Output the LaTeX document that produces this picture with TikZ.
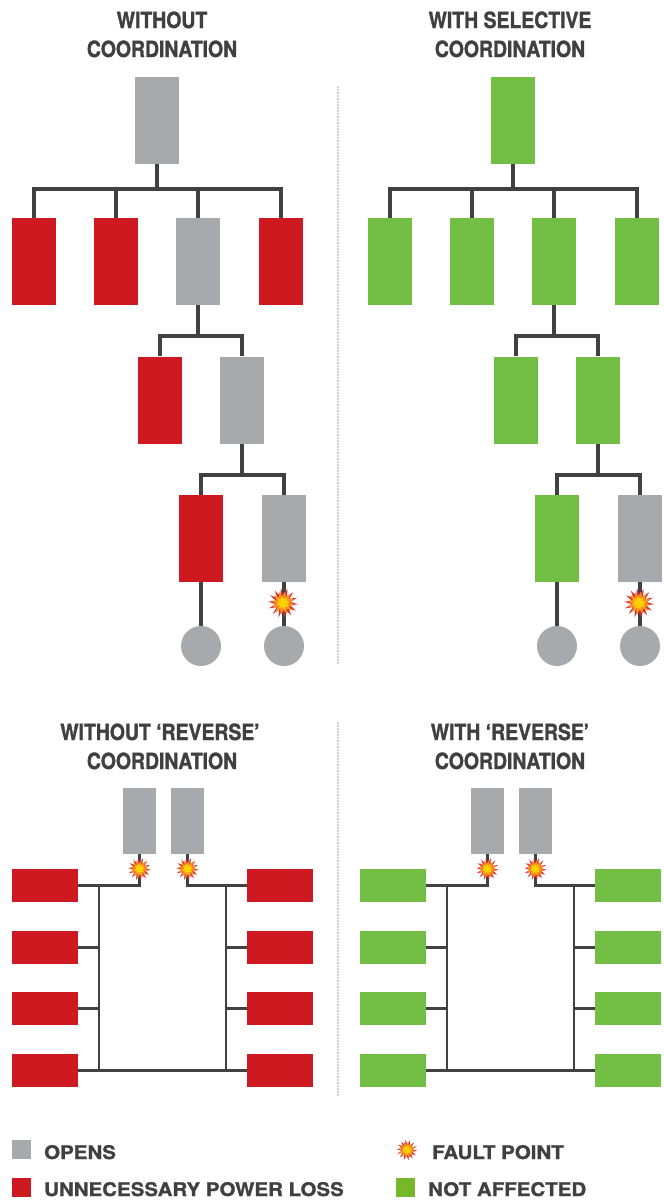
\documentclass[tikz,border=0pt]{standalone}
\usepackage{fontspec}
\setmainfont{TeX Gyre Heros}
\newfontfamily\ttlfont[FakeStretch=0.87,FakeBold=1.4]{texgyreheros-bold.otf}
\newfontfamily\lgdfont[FakeStretch=1.09,FakeBold=1.2]{texgyreheros-bold.otf}
\usetikzlibrary{shapes.geometric}
\definecolor{cgray}{HTML}{A7A9AC}
\definecolor{csep}{HTML}{9A9C9F}
\definecolor{cred}{HTML}{CF1920}
\definecolor{cgreen}{HTML}{73BE44}
\definecolor{clgreen}{HTML}{77B82B}
\definecolor{cline}{HTML}{414042}
\definecolor{ctext}{HTML}{404041}
\definecolor{fred}{HTML}{E42A2E}
\definecolor{forange}{HTML}{F7901E}
\definecolor{fyellow}{HTML}{FFD000}
\tikzset{
  tall/.style={rectangle, inner sep=0, minimum width=44pt, minimum height=87pt},
  small/.style={rectangle, inner sep=0, minimum width=33pt, minimum height=66pt},
  wide/.style={rectangle, inner sep=0, minimum width=66pt, minimum height=33pt},
  og/.style={fill=cgray},
  orr/.style={fill=cred},
  ogr/.style={fill=cgreen},
  load/.style={circle, inner sep=0, minimum size=40pt, fill=cgray},
  wire/.style={draw=cline, line width=3.2pt},
  thinwire/.style={draw=cline, line width=2.5pt},
  sep/.style={draw=csep, line width=1.8pt, line cap=round, dash pattern=on 0pt off 3pt},
  ttl/.style={inner sep=0, anchor=base, text=ctext, font=\ttlfont\fontsize{22.3}{26}\selectfont},
  lgd/.style={inner sep=0, anchor=base west, text=ctext, font=\lgdfont\fontsize{18.8}{22}\selectfont},
  sq/.style={rectangle, inner sep=0, minimum size=19pt},
}
\newcommand\fault[3]{%
  \node[star, star points=14, star point ratio=2.0, fill=fred, minimum size=#3pt, inner sep=0, rotate=8] (#1) at #2 {};
  \node[star, star points=12, star point ratio=1.7, fill=forange, minimum size=0.78*#3pt, inner sep=0, rotate=20] (#1o) at #2 {};
  \node[star, star points=8, star point ratio=1.6, fill=fyellow, minimum size=0.45*#3pt, inner sep=0, rotate=10] (#1y) at #2 {};
}
\begin{document}
\begin{tikzpicture}[x=1pt,y=-1pt]
\useasboundingbox (0,0) rectangle (664,1200);

% ---------- titles ----------
\node[ttl] (t1a) at (162,28) {WITHOUT};
\node[ttl] (t1b) at (162,57) {COORDINATION};
\node[ttl] (t2a) at (510,28) {WITH SELECTIVE};
\node[ttl] (t2b) at (510,57) {COORDINATION};
\node[ttl] (t3a) at (160,740) {WITHOUT ‘REVERSE’};
\node[ttl] (t3b) at (162,769) {COORDINATION};
\node[ttl] (t4a) at (510,740) {WITH ‘REVERSE’};
\node[ttl] (t4b) at (510,769) {COORDINATION};

% ---------- separators ----------
\draw[sep] (338,87) -- (338,665);
\draw[sep] (338,723) -- (338,1097);

% ---------- top-left tree ----------
\node[tall,og]  (A0) at (157,120.5) {};
\node[tall,orr] (A1) at (34,261.5) {};
\node[tall,orr] (A2) at (116,261.5) {};
\node[tall,og]  (A3) at (198,261.5) {};
\node[tall,orr] (A4) at (281,261.5) {};
\node[tall,orr] (A5) at (160,400) {};
\node[tall,og]  (A6) at (242,400) {};
\node[tall,orr] (A7) at (201,538.5) {};
\node[tall,og]  (A8) at (284,538.5) {};
\node[load] (AC1) at (201,646) {};
\node[load] (AC2) at (284,646) {};
\coordinate (Ab1) at (157,189);
\coordinate (Ab2) at (198,336);
\coordinate (Ab3) at (242,475);
\draw[wire] (A0.south) -- (Ab1);
\draw[wire] (A1.north) |- (Ab1);
\draw[wire] (A4.north) |- (Ab1);
\draw[wire] (A2.north) -- (A2.north |- Ab1);
\draw[wire] (A3.north) -- (A3.north |- Ab1);
\draw[wire] (A3.south) -- (Ab2);
\draw[wire] (A5.north) |- (Ab2);
\draw[wire] (A6.north) |- (Ab2);
\draw[wire] (A6.south) -- (Ab3);
\draw[wire] (A7.north) |- (Ab3);
\draw[wire] (A8.north) |- (Ab3);
\draw[wire] (A7.south) -- (AC1.north);
\draw[wire] (A8.south) -- (AC2.north);
\fault{Af}{(283,603)}{30}

% ---------- top-right tree ----------
\node[tall,ogr] (B0) at (513,120.5) {};
\node[tall,ogr] (B1) at (390,261.5) {};
\node[tall,ogr] (B2) at (472,261.5) {};
\node[tall,ogr] (B3) at (554,261.5) {};
\node[tall,ogr] (B4) at (637,261.5) {};
\node[tall,ogr] (B5) at (516,400) {};
\node[tall,ogr] (B6) at (598,400) {};
\node[tall,ogr] (B7) at (557,538.5) {};
\node[tall,og]  (B8) at (640,538.5) {};
\node[load] (BC1) at (557,646) {};
\node[load] (BC2) at (640,646) {};
\coordinate (Bb1) at (513,189);
\coordinate (Bb2) at (554,336);
\coordinate (Bb3) at (598,475);
\draw[wire] (B0.south) -- (Bb1);
\draw[wire] (B1.north) |- (Bb1);
\draw[wire] (B4.north) |- (Bb1);
\draw[wire] (B2.north) -- (B2.north |- Bb1);
\draw[wire] (B3.north) -- (B3.north |- Bb1);
\draw[wire] (B3.south) -- (Bb2);
\draw[wire] (B5.north) |- (Bb2);
\draw[wire] (B6.north) |- (Bb2);
\draw[wire] (B6.south) -- (Bb3);
\draw[wire] (B7.north) |- (Bb3);
\draw[wire] (B8.north) |- (Bb3);
\draw[wire] (B7.south) -- (BC1.north);
\draw[wire] (B8.south) -- (BC2.north);
\fault{Bf}{(639,603)}{30}

% ---------- bottom-left ----------
\node[small,og] (G1) at (139.5,821) {};
\node[small,og] (G2) at (187.5,821) {};
\node[wide,orr] (L1) at (45,885.5) {};
\node[wide,orr] (L2) at (45,947.5) {};
\node[wide,orr] (L3) at (45,1008.5) {};
\node[wide,orr] (L4) at (45,1070.5) {};
\node[wide,orr] (R1) at (280,885.5) {};
\node[wide,orr] (R2) at (280,947.5) {};
\node[wide,orr] (R3) at (280,1008.5) {};
\node[wide,orr] (R4) at (280,1070.5) {};
\coordinate (Lt) at (99,885.5);
\coordinate (Lb) at (99,1070.5);
\coordinate (Rt) at (226,885.5);
\coordinate (Rb) at (226,1070.5);
\draw[thinwire] (G1.south) |- (L1.east);
\draw[thinwire] (G2.south) |- (R1.west);
\draw[thinwire] (Lt) -- (Lb);
\draw[thinwire] (Rt) -- (Rb);
\draw[thinwire] (L2.east) -- (L2.east -| Lt);
\draw[thinwire] (L3.east) -- (L3.east -| Lt);
\draw[thinwire] (R2.west) -- (R2.west -| Rt);
\draw[thinwire] (R3.west) -- (R3.west -| Rt);
\draw[thinwire] (L4.east) -- (R4.west);
\fault{Lf1}{(139.5,869)}{23}
\fault{Lf2}{(187.5,869)}{23}

% ---------- bottom-right ----------
\node[small,og] (H1) at (487.5,821) {};
\node[small,og] (H2) at (535.5,821) {};
\node[wide,ogr] (M1) at (393,885.5) {};
\node[wide,ogr] (M2) at (393,947.5) {};
\node[wide,ogr] (M3) at (393,1008.5) {};
\node[wide,ogr] (M4) at (393,1070.5) {};
\node[wide,ogr] (N1) at (628,885.5) {};
\node[wide,ogr] (N2) at (628,947.5) {};
\node[wide,ogr] (N3) at (628,1008.5) {};
\node[wide,ogr] (N4) at (628,1070.5) {};
\coordinate (Mt) at (447,885.5);
\coordinate (Mb) at (447,1070.5);
\coordinate (Nt) at (574,885.5);
\coordinate (Nb) at (574,1070.5);
\draw[thinwire] (H1.south) |- (M1.east);
\draw[thinwire] (H2.south) |- (N1.west);
\draw[thinwire] (Mt) -- (Mb);
\draw[thinwire] (Nt) -- (Nb);
\draw[thinwire] (M2.east) -- (M2.east -| Mt);
\draw[thinwire] (M3.east) -- (M3.east -| Mt);
\draw[thinwire] (N2.west) -- (N2.west -| Nt);
\draw[thinwire] (N3.west) -- (N3.west -| Nt);
\draw[thinwire] (M4.east) -- (N4.west);
\fault{Mf1}{(487.5,869)}{23}
\fault{Mf2}{(535.5,869)}{23}

% ---------- legend ----------
\node[sq,fill=cgray] (k1) at (21.5,1149.5) {};
\node[lgd] (k1t) at (44,1159) {OPENS};
\node[sq,fill=cred] (k2) at (21.5,1187.5) {};
\node[lgd] (k2t) at (44,1196) {UNNECESSARY POWER LOSS};
\fault{k3}{(407,1150)}{21}
\node[lgd] (k3t) at (432,1159) {FAULT POINT};
\node[sq,fill=clgreen] (k4) at (405.5,1187.5) {};
\node[lgd] (k4t) at (428,1196) {NOT AFFECTED};
\end{tikzpicture}
\end{document}
